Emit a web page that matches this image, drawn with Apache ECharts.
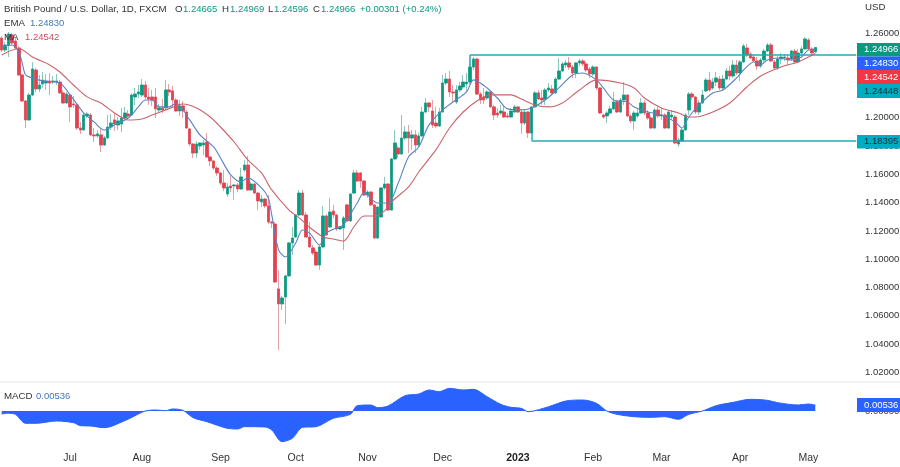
<!DOCTYPE html>
<html>
<head>
<meta charset="utf-8">
<title>GBP/USD</title>
<style>html,body{margin:0;padding:0;background:#fff}#chart{width:900px;height:467px}</style>
<script src="https://cdn.jsdelivr.net/npm/echarts@6/dist/echarts.min.js"></script>
</head>
<body>
<div id="chart"></div>
<script>
var candleOpen = [
1.2564,1.2480,1.2515,1.2586,1.2543,1.2494,1.2303,1.2119,1.1985,1.2161,
1.2338,1.2204,1.2239,1.2246,1.2260,1.2253,1.2253,1.2253,1.2176,1.2105,
1.2161,1.2098,1.2091,1.1928,1.1914,1.2013,1.2020,1.1879,1.1872,1.1879,
1.1808,1.1858,1.1935,1.1985,1.1949,1.1956,1.1999,1.2027,1.2020,1.2147,
1.2168,1.2161,1.2232,1.2147,1.2147,1.2147,1.2055,1.2070,1.2070,1.2197,
1.2190,1.2126,1.2048,1.2084,1.2041,1.1921,1.1815,1.1751,1.1801,1.1808,
1.1829,1.1723,1.1695,1.1645,1.1610,1.1539,1.1461,1.1518,1.1518,1.1525,
1.1497,1.1631,1.1666,1.1490,1.1532,1.1468,1.1405,1.1426,1.1377,1.1263,
1.1249,1.0790,1.0684,1.0733,1.0882,1.1115,1.1157,1.1313,1.1468,1.1313,
1.1157,1.1080,1.1051,1.0959,1.1087,1.1306,1.1228,1.1341,1.1313,1.1214,
1.1221,1.1384,1.1271,1.1468,1.1610,1.1610,1.1553,1.1454,1.1475,1.1384,
1.1150,1.1299,1.1504,1.1532,1.1348,1.1709,1.1787,1.1744,1.1857,1.1900,
1.1857,1.1879,1.1808,1.1872,1.2041,1.2105,1.2048,1.1963,1.1942,1.2041,
1.2246,1.2274,1.2183,1.2112,1.2197,1.2218,1.2239,1.2253,1.2359,1.2416,
1.2168,1.2147,1.2140,1.2183,1.2077,1.2034,1.2034,1.2041,1.2013,1.2006,
1.2041,1.2077,1.2041,1.1963,1.2041,1.1893,1.2077,1.2176,1.2140,1.2133,
1.2197,1.2204,1.2176,1.2274,1.2331,1.2373,1.2388,1.2359,1.2317,1.2388,
1.2402,1.2381,1.2345,1.2310,1.2359,1.2211,1.2020,1.2013,1.2034,1.2063,
1.2112,1.2041,1.2126,1.2161,1.2013,1.1978,1.2013,1.2034,1.2105,1.2034,
1.1999,1.1928,1.2055,1.2013,1.2020,1.1928,1.2006,1.2006,1.1815,1.1836,
1.1914,1.2055,1.2168,1.2147,1.2041,1.2105,1.2190,1.2267,1.2211,1.2253,
1.2274,1.2211,1.2274,1.2331,1.2296,1.2373,1.2317,1.2395,1.2494,1.2451,
1.2430,1.2402,1.2366,1.2409,1.2472,1.2515,1.2395,1.2352,1.2416,1.2423,
1.2423,1.2416,1.2472,1.2395,1.2458,1.2487,1.2550,1.2487,1.2466];

var candleClose = [
1.2480,1.2515,1.2593,1.2529,1.2494,1.2303,1.2119,1.1985,1.2161,1.2345,
1.2204,1.2232,1.2267,1.2260,1.2246,1.2260,1.2260,1.2176,1.2105,1.2168,
1.2077,1.2091,1.1928,1.1914,1.2020,1.2027,1.1879,1.1872,1.1886,1.1808,
1.1858,1.1935,1.1963,1.1956,1.1978,1.1999,1.2034,1.2013,1.2161,1.2168,
1.2183,1.2232,1.2147,1.2133,1.2126,1.2063,1.2070,1.2055,1.2197,1.2183,
1.2126,1.2048,1.2084,1.2048,1.1928,1.1815,1.1751,1.1815,1.1822,1.1822,
1.1723,1.1695,1.1645,1.1610,1.1539,1.1504,1.1511,1.1504,1.1525,1.1497,
1.1582,1.1666,1.1490,1.1532,1.1468,1.1412,1.1426,1.1377,1.1263,1.1256,
1.0839,1.0684,1.0726,1.0882,1.1115,1.1150,1.1313,1.1468,1.1313,1.1157,
1.1087,1.1044,1.0959,1.1087,1.1306,1.1172,1.1334,1.1313,1.1214,1.1228,
1.1292,1.1271,1.1461,1.1610,1.1553,1.1553,1.1454,1.1475,1.1384,1.1150,
1.1369,1.1504,1.1532,1.1348,1.1709,1.1822,1.1744,1.1857,1.1900,1.1857,
1.1879,1.1808,1.1872,1.2041,1.2105,1.2077,1.1949,1.1942,1.2041,1.2246,
1.2274,1.2183,1.2176,1.2197,1.2225,1.2253,1.2253,1.2359,1.2416,1.2168,
1.2126,1.2126,1.2183,1.2077,1.2020,1.2020,1.2048,1.2006,1.2006,1.2048,
1.2077,1.2041,1.1963,1.2041,1.1893,1.2077,1.2176,1.2133,1.2126,1.2197,
1.2211,1.2176,1.2274,1.2331,1.2381,1.2388,1.2359,1.2317,1.2388,1.2402,
1.2381,1.2338,1.2310,1.2359,1.2211,1.2034,1.2006,1.2034,1.2063,1.2112,
1.2041,1.2126,1.2161,1.2013,1.1978,1.2034,1.2034,1.2105,1.2034,1.1999,
1.1928,1.2055,1.2013,1.2020,1.1928,1.2041,1.2020,1.1822,1.1843,1.1914,
1.2020,1.2168,1.2147,1.2041,1.2105,1.2161,1.2267,1.2197,1.2253,1.2282,
1.2211,1.2274,1.2331,1.2296,1.2373,1.2317,1.2395,1.2508,1.2444,1.2423,
1.2402,1.2366,1.2409,1.2472,1.2515,1.2402,1.2352,1.2416,1.2430,1.2430,
1.2409,1.2472,1.2395,1.2458,1.2487,1.2557,1.2487,1.2458,1.2497];

var candleLow = [
1.2465,1.2465,1.2430,1.2515,1.2487,1.2296,1.2112,1.1928,1.1978,1.2154,
1.2183,1.2183,1.2211,1.2197,1.2161,1.2239,1.2232,1.2168,1.2098,1.2098,
1.1971,1.2070,1.1914,1.1886,1.1907,1.1999,1.1872,1.1829,1.1858,1.1758,
1.1801,1.1850,1.1914,1.1907,1.1914,1.1900,1.1978,1.1992,1.2013,1.2091,
1.2140,1.2147,1.2133,1.2091,1.2084,1.1999,1.2041,1.2034,1.2055,1.2154,
1.2070,1.2041,1.2013,1.1999,1.1921,1.1801,1.1716,1.1716,1.1773,1.1737,
1.1716,1.1659,1.1631,1.1589,1.1525,1.1482,1.1440,1.1475,1.1419,1.1475,
1.1490,1.1617,1.1483,1.1483,1.1461,1.1348,1.1370,1.1362,1.1249,1.1221,
1.0832,1.0359,1.0641,1.0542,1.0875,1.1030,1.1150,1.1306,1.1306,1.1150,
1.1080,1.1030,1.0952,1.0924,1.1080,1.1165,1.1221,1.1292,1.1200,1.1207,
1.1066,1.1264,1.1264,1.1461,1.1546,1.1504,1.1447,1.1433,1.1377,1.1143,
1.1143,1.1292,1.1490,1.1341,1.1341,1.1702,1.1716,1.1737,1.1843,1.1751,
1.1773,1.1751,1.1794,1.1865,1.2034,1.2041,1.1928,1.1928,1.1935,1.2034,
1.2232,1.2147,1.2112,1.2098,1.2183,1.2204,1.2183,1.2239,1.2338,1.2161,
1.2098,1.2098,1.2126,1.2070,1.1985,1.1999,1.2020,1.1999,1.1999,1.1999,
1.2034,1.2034,1.1886,1.1949,1.1858,1.1886,1.2070,1.2126,1.2091,1.2091,
1.2183,1.2161,1.2168,1.2267,1.2324,1.2352,1.2338,1.2282,1.2282,1.2366,
1.2366,1.2324,1.2282,1.2296,1.2197,1.2027,1.1992,1.1963,1.2020,1.2055,
1.2034,1.2034,1.2091,1.2006,1.1963,1.1914,1.1999,1.2027,1.2020,1.1985,
1.1921,1.1921,1.1999,1.1985,1.1921,1.1921,1.1985,1.1815,1.1794,1.1829,
1.1907,1.2020,1.2126,1.2027,1.2020,1.2098,1.2183,1.2183,1.2197,1.2225,
1.2197,1.2190,1.2267,1.2267,1.2282,1.2303,1.2260,1.2388,1.2430,1.2416,
1.2395,1.2338,1.2352,1.2395,1.2465,1.2395,1.2345,1.2338,1.2381,1.2402,
1.2373,1.2402,1.2388,1.2388,1.2437,1.2480,1.2480,1.2437,1.2460];

var candleHigh = [
1.2578,1.2536,1.2607,1.2600,1.2564,1.2508,1.2310,1.2126,1.2176,1.2395,
1.2352,1.2303,1.2324,1.2310,1.2317,1.2296,1.2310,1.2267,1.2197,1.2183,
1.2168,1.2154,1.2098,1.1971,1.2034,1.2041,1.2034,1.1928,1.1914,1.1928,
1.1872,1.2020,1.2027,1.2034,1.2006,1.2070,1.2077,1.2055,1.2176,1.2211,
1.2232,1.2274,1.2260,1.2211,1.2197,1.2211,1.2098,1.2133,1.2267,1.2239,
1.2225,1.2140,1.2126,1.2119,1.2055,1.1928,1.1822,1.1836,1.1829,1.1843,
1.1893,1.1730,1.1702,1.1659,1.1617,1.1631,1.1539,1.1589,1.1532,1.1539,
1.1645,1.1702,1.1730,1.1546,1.1539,1.1475,1.1454,1.1433,1.1454,1.1271,
1.1263,1.0924,1.0740,1.0889,1.1122,1.1228,1.1320,1.1490,1.1490,1.1334,
1.1263,1.1101,1.1066,1.1101,1.1377,1.1320,1.1433,1.1384,1.1320,1.1235,
1.1306,1.1391,1.1468,1.1631,1.1631,1.1617,1.1560,1.1490,1.1483,1.1391,
1.1377,1.1511,1.1582,1.1539,1.1716,1.1914,1.1801,1.2020,1.1942,1.1949,
1.1914,1.1914,1.1893,1.2077,1.2140,1.2112,1.2126,1.2077,1.2070,1.2303,
1.2317,1.2331,1.2232,1.2232,1.2253,1.2303,1.2317,1.2388,1.2430,1.2423,
1.2183,1.2211,1.2197,1.2197,1.2091,1.2070,1.2091,1.2084,1.2034,1.2070,
1.2091,1.2084,1.2055,1.2055,1.2048,1.2084,1.2190,1.2197,1.2197,1.2211,
1.2246,1.2232,1.2289,1.2423,1.2395,1.2409,1.2430,1.2373,1.2395,1.2416,
1.2416,1.2395,1.2359,1.2373,1.2366,1.2218,1.2027,1.2048,1.2084,1.2183,
1.2126,1.2140,1.2253,1.2168,1.2027,1.2048,1.2063,1.2140,1.2126,1.2055,
1.2013,1.2070,1.2077,1.2070,1.2034,1.2055,1.2055,1.2020,1.1858,1.1928,
1.2034,1.2183,1.2183,1.2154,1.2126,1.2197,1.2282,1.2324,1.2282,1.2324,
1.2296,1.2303,1.2352,1.2366,1.2409,1.2409,1.2409,1.2522,1.2522,1.2465,
1.2444,1.2430,1.2423,1.2487,1.2529,1.2529,1.2409,1.2437,1.2458,1.2451,
1.2444,1.2480,1.2487,1.2487,1.2508,1.2571,1.2564,1.2501,1.2497];

// read every few bars: [bar, price]
var emaPoints = [
[0,1.2501],[3,1.2515],[5,1.2466],[6,1.2388],[7,1.2303],[9,1.2282],[12,1.2261],[17,1.2246],
[20,1.2162],[24,1.2034],[27,1.1971],[30,1.1914],[33,1.195],[37,1.1999],[40,1.2077],[42,1.2126],
[44,1.2126],[46,1.2077],[49,1.2077],[51,1.2105],[55,1.1985],[58,1.1879],[62,1.1794],[64,1.1716],
[67,1.1596],[70,1.1547],[72,1.1575],[76,1.1504],[78,1.1433],[79,1.1313],[81,1.1066],[83,1.1016],
[86,1.1115],[88,1.1207],[90,1.1186],[93,1.1101],[95,1.1186],[98,1.1221],[100,1.1243],[104,1.1398],
[106,1.1469],[110,1.1398],[113,1.1398],[116,1.1539],[119,1.1723],[122,1.1794],[125,1.195],[129,1.2056],
[132,1.2112],[136,1.2183],[138,1.2268],[142,1.2211],[145,1.214],[148,1.2063],[152,1.2056],[155,1.207],
[159,1.2126],[163,1.2211],[167,1.2303],[170,1.2317],[174,1.2268],[176,1.2211],[179,1.2126],[183,1.2112],
[185,1.2077],[189,1.2041],[193,1.202],[197,1.1971],[199,1.1928],[201,1.2006],[204,1.2091],[208,1.2176],
[211,1.2197],[215,1.2282],[217,1.2338],[220,1.2395],[222,1.2374],[224,1.2409],[227,1.2423],[231,1.2409],
[234,1.243],[236,1.248],[238,1.2483]];

var maPoints = [
[0,1.2444],[5,1.249],[9,1.243],[14,1.2374],[17,1.2324],[21,1.2232],[25,1.2148],[29,1.2105],
[33,1.2034],[37,1.1985],[41,1.1992],[44,1.202],[48,1.2056],[51,1.2084],[53,1.2098],[57,1.207],
[61,1.2006],[64,1.1935],[68,1.1829],[72,1.1702],[76,1.161],[79,1.149],[84,1.1349],[87,1.1292],
[90,1.1228],[94,1.1158],[97,1.1143],[100,1.1129],[103,1.1228],[106,1.1306],[109,1.1306],[112,1.1342],
[114,1.1405],[119,1.1511],[122,1.1617],[127,1.1773],[131,1.1928],[135,1.2041],[139,1.2119],[143,1.2162],
[149,1.2162],[152,1.2133],[156,1.2091],[160,1.2077],[164,1.2105],[169,1.2197],[174,1.2268],[181,1.2246],
[185,1.2211],[188,1.214],[193,1.207],[198,1.2034],[201,1.2006],[203,1.2006],[208,1.2041],[213,1.2105],
[218,1.2218],[222,1.2296],[228,1.236],[233,1.2395],[238,1.2454]];

var macdPoints = [
[0,-0.0027],[2,-0.0021],[4,-0.003],[7,-0.0111],[10,-0.0111],[16,-0.009],[21,-0.0105],[23,-0.0132],
[26,-0.0135],[30,-0.015],[36,-0.0087],[39,-0.0042],[42,0],[45,0.0009],[48,0.0003],[50,0.0018],
[53,0.0006],[56,-0.006],[60,-0.0096],[66,-0.0156],[69,-0.0162],[71,-0.0141],[77,-0.0144],[79,-0.0171],
[82,-0.0276],[85,-0.0246],[88,-0.0147],[92,-0.0141],[97,-0.0066],[102,-0.003],[104,0.0048],[108,0.0054],
[110,0.003],[113,0.0045],[118,0.0138],[122,0.0153],[125,0.0189],[128,0.0174],[131,0.0204],[135,0.0189],
[138,0.0195],[142,0.0129],[146,0.006],[149,0.0033],[152,0.0024],[154,-0.0006],[160,0.0039],[165,0.009],
[170,0.0099],[174,0.0069],[177,0],[180,-0.003],[185,-0.0051],[190,-0.0057],[194,-0.0051],[198,-0.0075],
[201,-0.003],[205,0],[209,0.0048],[214,0.0078],[219,0.0105],[224,0.0096],[227,0.0075],[233,0.0054],
[236,0.0063],[238,0.00536]];

var priceTicks = [1.26,1.24,1.22,1.20,1.18,1.16,1.14,1.12,1.10,1.08,1.06,1.04,1.02];
var monthBars = [20,41,64,86,107,129,151,173,193,216,236];
var monthNames = ['Jul','Aug','Sep','Oct','Nov','Dec','2023','Feb','Mar','Apr','May'];
var resistance = 1.24448, support = 1.18395;

var UP = '#089981', DOWN = '#e5404f', TEAL = '#26a9b5', BLUE = '#2962ff';
var FONT = '"Liberation Sans", sans-serif';
var NUM_FONT = '9.5px ' + FONT, TXT_FONT = '9.7px ' + FONT;
var BAR_COUNT = 251;

var categories = [];
for (var i = 0; i < BAR_COUNT; i++) {
    var m = monthBars.indexOf(i);
    categories.push(m >= 0 ? monthNames[m] : String(i));
}

var wicks = [], bodies = [];
for (var j = 0; j < candleOpen.length; j++) {
    wicks.push([candleOpen[j], candleClose[j], candleLow[j], candleHigh[j]]);
    bodies.push([candleOpen[j], candleClose[j],
        Math.min(candleOpen[j], candleClose[j]), Math.max(candleOpen[j], candleClose[j])]);
}

function box(y, h, fill, text, color) {
    return [
        {type: 'rect', z: 100, shape: {x: 857, y: y, width: 43, height: h}, style: {fill: fill}},
        {type: 'text', z: 101, x: 864, y: y + h / 2, style: {
            text: text, fill: color, font: NUM_FONT, textVerticalAlign: 'middle'}}
    ];
}

function label(x, y, text, color, font) {
    return {type: 'text', z: 101, x: x, y: y, style: {
        text: text, fill: color, font: font, textVerticalAlign: 'middle'}};
}

var elements = [
    {type: 'line', z: 1, shape: {x1: 0, y1: 382, x2: 900, y2: 382}, style: {stroke: '#e6e6e6', lineWidth: 1}},
    label(4, 9, 'British Pound / U.S. Dollar, 1D, FXCM', '#333', TXT_FONT),
    label(175, 9, 'O', '#333', TXT_FONT), label(183, 9, '1.24665', UP, NUM_FONT),
    label(222, 9, 'H', '#333', TXT_FONT), label(230, 9, '1.24969', UP, NUM_FONT),
    label(268, 9, 'L', '#333', TXT_FONT), label(274, 9, '1.24596', UP, NUM_FONT),
    label(313, 9, 'C', '#333', TXT_FONT), label(321, 9, '1.24966', UP, NUM_FONT),
    label(360, 9, '+0.00301 (+0.24%)', UP, NUM_FONT),
    label(4, 23, 'EMA', '#333', TXT_FONT), label(30, 23, '1.24830', '#4678b8', NUM_FONT),
    label(4, 37, 'MA', '#333', TXT_FONT), label(25, 37, '1.24542', '#c2525e', NUM_FONT),
    label(4, 396, 'MACD', '#333', TXT_FONT), label(36, 396, '0.00536', '#4678b8', NUM_FONT),
    label(865, 7, 'USD', '#333', TXT_FONT)
].concat(
    box(43, 13.5, UP, '1.24966', '#fff'),
    box(56.5, 13.5, BLUE, '1.24830', '#fff'),
    box(70, 14, '#f23645', '1.24542', '#fff'),
    box(84, 14, '#00acc1', '1.24448', '#0d3238'),
    box(135, 13.5, '#00acc1', '1.18395', '#0d3238'),
    box(398, 14, BLUE, '0.00536', '#fff')
);

var myChart = echarts.init(document.getElementById('chart'), null, {renderer: 'canvas'});
myChart.setOption({
    animation: false,
    backgroundColor: '#fff',
    textStyle: {fontFamily: FONT},
    graphic: {elements: elements},
    grid: [
        {left: 0, right: 42, top: 0, height: 381, outerBoundsMode: 'none'},
        {left: 0, right: 42, top: 382, height: 63, outerBoundsMode: 'none'}
    ],
    xAxis: [
        {type: 'category', gridIndex: 0, data: categories, show: false},
        {
            type: 'category', gridIndex: 1, data: categories,
            axisLine: {show: false}, axisTick: {show: false}, splitLine: {show: false},
            axisLabel: {
                interval: function (index, value) { return monthBars.indexOf(index) >= 0; },
                margin: 8, fontSize: 10.5, color: '#333', hideOverlap: false,
                formatter: function (value) { return value === '2023' ? '{b|2023}' : value; },
                rich: {b: {fontWeight: 'bold', fontSize: 10.5, color: '#222'}}
            }
        }
    ],
    yAxis: [
        {
            type: 'value', gridIndex: 0, position: 'right', scale: true,
            min: 1.0139, max: 1.2833,
            axisLine: {show: false}, axisTick: {show: false}, splitLine: {show: false},
            axisLabel: {
                customValues: priceTicks, margin: 7, fontSize: 9.5, color: '#333',
                formatter: function (v) { return v.toFixed(5); }
            }
        },
        {
            type: 'value', gridIndex: 1, position: 'right',
            min: -0.0306, max: 0.0261,
            axisLine: {show: false}, axisTick: {show: false}, splitLine: {show: false},
            axisLabel: {
                customValues: [0], margin: 7, fontSize: 9.5, color: '#333',
                formatter: function (v) { return v.toFixed(5); }
            }
        }
    ],
    series: [
        {
            type: 'candlestick', name: 'wicks', data: wicks, barWidth: 3, silent: true,
            itemStyle: {color: '#8cc9bd', color0: '#e3a0a8', borderColor: '#8cc9bd', borderColor0: '#e3a0a8', borderWidth: 1}
        },
        {
            type: 'candlestick', name: 'GBPUSD', data: bodies, barWidth: 3, silent: true,
            itemStyle: {color: UP, color0: DOWN, borderColor: UP, borderColor0: DOWN, borderWidth: 0.5},
            markLine: {
                silent: true, symbol: 'none', label: {show: false}, animation: false,
                lineStyle: {color: TEAL, width: 1.5, type: 'solid'},
                data: [
                    [{xAxis: 137, yAxis: resistance}, {xAxis: BAR_COUNT - 1, yAxis: resistance}],
                    [{xAxis: 137, yAxis: resistance}, {xAxis: 137, yAxis: candleClose[137]}],
                    [{xAxis: 155, yAxis: support}, {xAxis: BAR_COUNT - 1, yAxis: support}],
                    [{xAxis: 155, yAxis: support}, {xAxis: 155, yAxis: candleOpen[155]}]
                ]
            }
        },
        {
            type: 'line', name: 'EMA', data: emaPoints, smooth: 0.3, symbol: 'none', z: 5, silent: true,
            lineStyle: {color: '#5b82c4', width: 1.1}
        },
        {
            type: 'line', name: 'MA', data: maPoints, smooth: 0.3, symbol: 'none', z: 5, silent: true,
            lineStyle: {color: '#c9636d', width: 1.1}
        },
        {
            type: 'line', name: 'MACD', xAxisIndex: 1, yAxisIndex: 1, data: macdPoints, smooth: 0.3,
            symbol: 'none', silent: true,
            lineStyle: {color: BLUE, width: 1},
            areaStyle: {color: BLUE, opacity: 1, origin: 0}
        }
    ]
});
</script>
</body>
</html>
